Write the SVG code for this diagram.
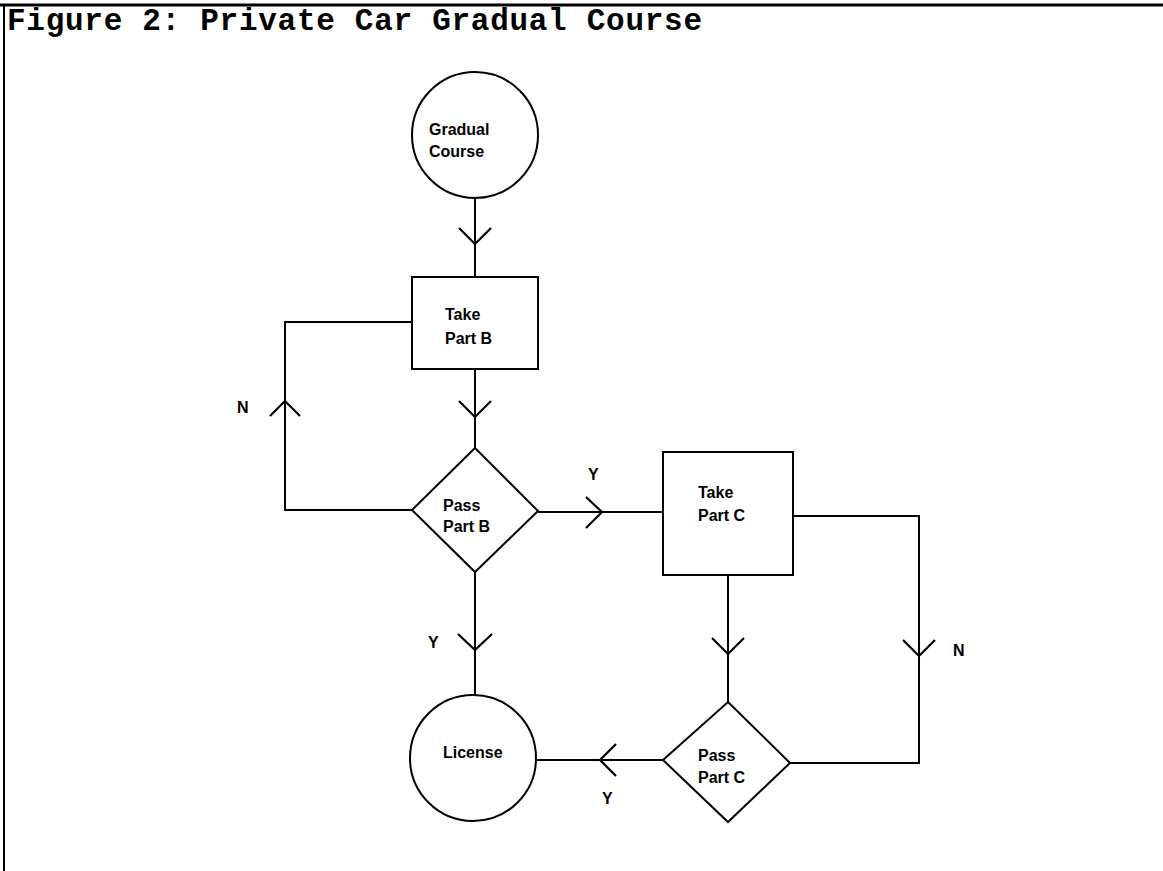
<svg xmlns="http://www.w3.org/2000/svg" width="1163" height="871" viewBox="0 0 1163 871">
<style>
.shape{fill:none;stroke:#000;stroke-width:2}
.conn{fill:none;stroke:#000;stroke-width:2}
.arr{fill:none;stroke:#000;stroke-width:2.2;stroke-linejoin:miter}
.lbl{font-family:"Liberation Sans",Arial,sans-serif;font-weight:bold;font-size:16px;fill:#000}
.title{font-family:"Liberation Mono","Courier New",monospace;font-weight:bold;font-size:31px;fill:#000}
</style>
<rect width="1163" height="871" fill="#fff"/>
<g id="frame">
<line x1="0" y1="5" x2="1163" y2="5" stroke="#000" stroke-width="3"/>
<line x1="4" y1="4" x2="4" y2="871" stroke="#000" stroke-width="2"/>
<text class="title" x="7" y="30" textLength="695" lengthAdjust="spacing">Figure 2: Private Car Gradual Course</text>
</g>
<g id="connectors">
<line class="conn" x1="475" y1="198" x2="475" y2="277"/>
<path class="arr" d="M459,228 L475,244 L491,228"/>
<line class="conn" x1="475" y1="369" x2="475" y2="448"/>
<path class="arr" d="M459,401 L475,417 L491,401"/>
<polyline class="conn" points="412,322 285,322 285,510 412,510"/>
<path class="arr" d="M270,416 L285,401 L300,416"/>
<line class="conn" x1="538" y1="512" x2="663" y2="512"/>
<path class="arr" d="M586,497 L602,512 L586,528"/>
<line class="conn" x1="475" y1="572" x2="475" y2="696"/>
<path class="arr" d="M458,634 L475,650 L492,634"/>
<polyline class="conn" points="793,516 919,516 919,763 790,763"/>
<path class="arr" d="M903,640 L919,656 L935,640"/>
<line class="conn" x1="728" y1="575" x2="728" y2="702"/>
<path class="arr" d="M712,638 L728,654 L744,638"/>
<line class="conn" x1="663" y1="760" x2="537" y2="760"/>
<path class="arr" d="M616,744 L600,760 L616,776"/>
<text class="lbl" x="237" y="413">N</text>
<text class="lbl" x="588" y="480">Y</text>
<text class="lbl" x="428" y="648">Y</text>
<text class="lbl" x="953" y="656">N</text>
<text class="lbl" x="602" y="804">Y</text>
</g>
<g id="gradual-course">
<circle class="shape" cx="475" cy="135" r="63"/>
<text class="lbl" x="429" y="135">Gradual</text>
<text class="lbl" x="429" y="157">Course</text>
</g>
<g id="take-part-b">
<rect class="shape" x="412" y="277" width="126" height="92"/>
<text class="lbl" x="445" y="320">Take</text>
<text class="lbl" x="445" y="344">Part B</text>
</g>
<g id="pass-part-b">
<polygon class="shape" points="475,448 538,511 475,572 412,510"/>
<text class="lbl" x="443" y="511">Pass</text>
<text class="lbl" x="443" y="532">Part B</text>
</g>
<g id="take-part-c">
<rect class="shape" x="663" y="452" width="130" height="123"/>
<text class="lbl" x="698" y="498">Take</text>
<text class="lbl" x="698" y="521">Part C</text>
</g>
<g id="pass-part-c">
<polygon class="shape" points="728,702 790,763 728,822 663,760"/>
<text class="lbl" x="698" y="761">Pass</text>
<text class="lbl" x="698" y="783">Part C</text>
</g>
<g id="license">
<circle class="shape" cx="473" cy="758" r="63"/>
<text class="lbl" x="443" y="758">License</text>
</g>
</svg>
